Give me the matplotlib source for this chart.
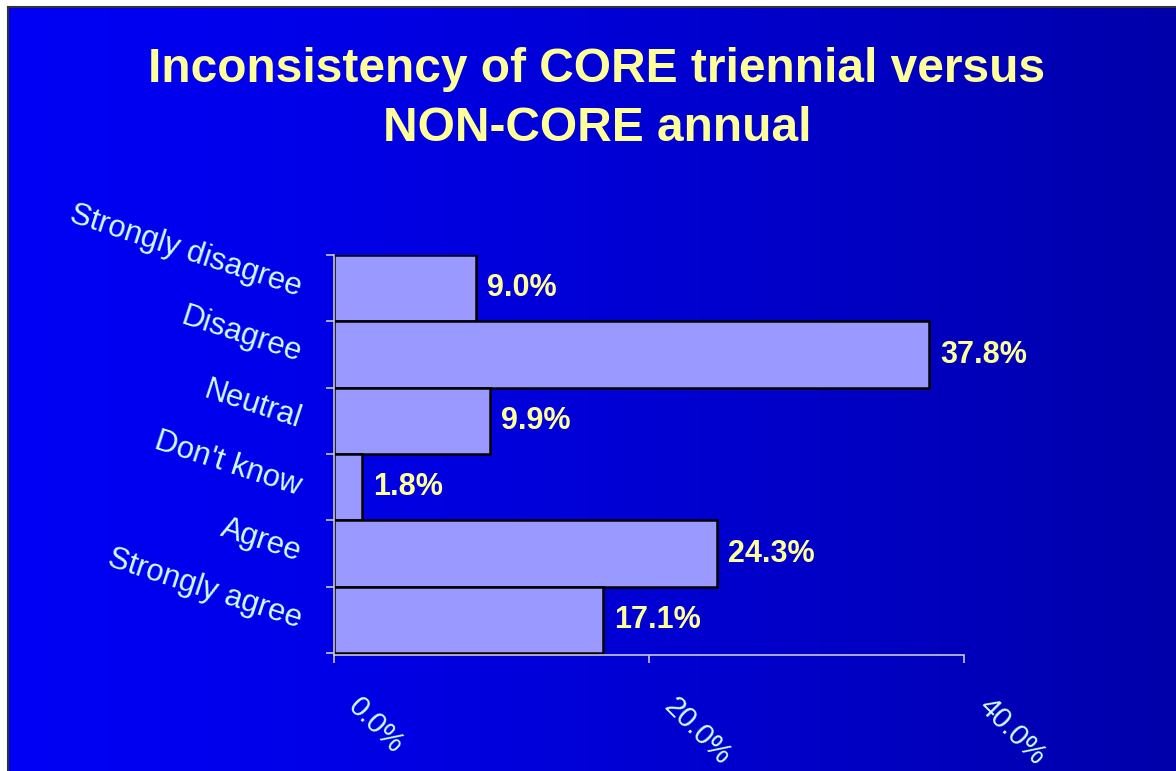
import numpy as np
import matplotlib
matplotlib.use('Agg')
import matplotlib.pyplot as plt
import matplotlib.transforms as mtransforms

# data
categories = ['Strongly disagree', 'Disagree', 'Neutral', "Don't know", 'Agree', 'Strongly agree']
values = [9.0, 37.8, 9.9, 1.8, 24.3, 17.1]
x_ticks = [0, 20, 40]
x_tick_labels = ['0.0%', '20.0%', '40.0%']
title = 'Inconsistency of CORE triennial versus\nNON-CORE annual'

plt.rcParams['font.family'] = ['Liberation Sans', 'DejaVu Sans']

label_color = '#CCFFFF'
value_color = '#FFFF99'
axis_color = '#C8C8C8'

fig = plt.figure(figsize=(11.76, 7.71), dpi=100, facecolor='white')

# gradient background
bg = fig.add_axes([8 / 1176, 0, 1 - 8 / 1176, 1 - 7 / 771])
grad = np.linspace(0, 1, 256).reshape(1, -1)
blue = 245 - 75 * grad ** 1.3
img = np.zeros((1, 256, 3))
img[..., 2] = blue / 255
bg.imshow(img, aspect='auto', extent=[0, 1, 0, 1])
bg.set_xlim(0, 1)
bg.set_ylim(0, 1)
bg.set_xticks([])
bg.set_yticks([])
for side in ['right', 'bottom']:
    bg.spines[side].set_visible(False)
for side in ['left', 'top']:
    bg.spines[side].set_color('#333333')
    bg.spines[side].set_linewidth(1.5)

fig.text(597 / 1176, 1 - 99 / 771, title, ha='center', va='center',
         fontsize=34.5, fontweight='bold', color=value_color, linespacing=1.42)

ax = fig.add_axes([334 / 1176, 1 - 655 / 771, 630 / 1176, 400 / 771])
ax.patch.set_alpha(0)

y = np.arange(len(categories))
ax.barh(y, values, height=1.0, color='#9999FF', edgecolor='black', linewidth=1.8, zorder=3)

for yi, v in zip(y, values):
    ax.text(v + 0.7, yi, f'{v:.1f}%', ha='left', va='center', fontsize=22,
            fontweight='bold', color=value_color)

ax.set_xlim(0, 40)
ax.set_ylim(len(categories) - 0.47, -0.5)

for side in ['top', 'right']:
    ax.spines[side].set_visible(False)
for side in ['left', 'bottom']:
    ax.spines[side].set_color(axis_color)
    ax.spines[side].set_linewidth(1.2)
    ax.spines[side].set_zorder(4)

# category labels
ax.set_yticks(y)
ax.set_yticklabels(categories, fontsize=22.3, color=label_color, rotation=-18,
                   ha='right', va='center', rotation_mode='anchor')
ax.tick_params(axis='y', which='major', length=0, pad=24)
ax.set_yticks(np.arange(len(categories) + 1) - 0.5, minor=True)
ax.tick_params(axis='y', which='minor', length=6, width=1.2, color=axis_color, direction='out')

# x ticks
ax.set_xticks(x_ticks)
ax.set_xticklabels(x_tick_labels, fontsize=21, color=label_color, rotation=-45,
                   ha='left', va='top')
ax.tick_params(axis='x', length=6, width=1.2, color=axis_color, direction='out', pad=21)
offset = mtransforms.ScaledTranslation(0.09, 0, fig.dpi_scale_trans)
for lab in ax.get_xticklabels():
    lab.set_transform(lab.get_transform() + offset)

fig.savefig('out.png', dpi=100, facecolor=fig.get_facecolor())
